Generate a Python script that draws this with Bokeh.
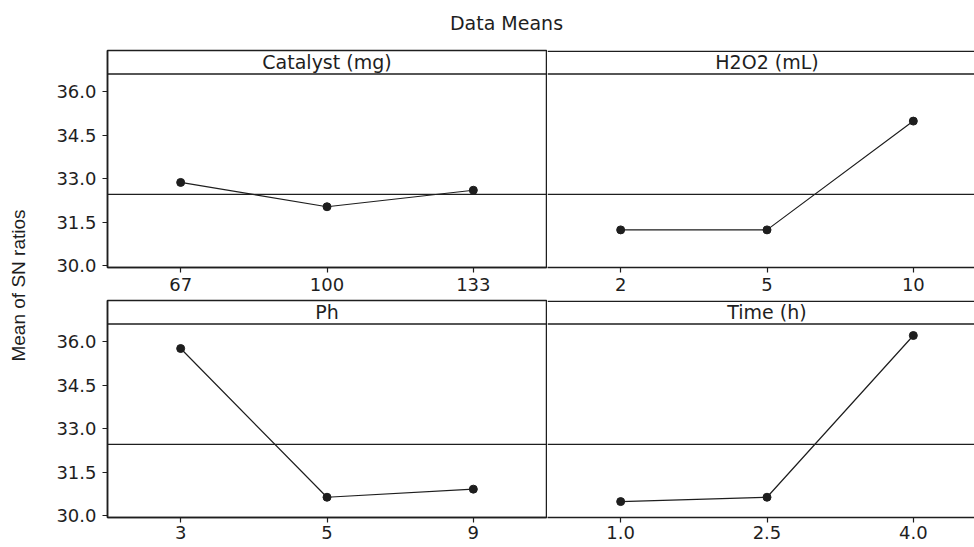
import numpy as np
from bokeh.plotting import figure
from bokeh.models import Range1d, FixedTicker, Span, Label, NumeralTickFormatter
from bokeh.layouts import column, row
from bokeh.embed import file_html
from bokeh.resources import INLINE

# ---------------- data ----------------
title_text = "Data Means"
y_label_text = "Mean of SN ratios"

catalyst_levels = ["67", "100", "133"]
catalyst_sn = [32.87, 32.03, 32.60]

h2o2_levels = ["2", "5", "10"]
h2o2_sn = [31.23, 31.23, 34.99]

ph_levels = ["3", "5", "9"]
ph_sn = [35.77, 30.63, 30.91]

time_levels = ["1.0", "2.5", "4.0"]
time_sn = [30.48, 30.63, 36.22]

grand_mean = 32.46
y_ticks = [30.0, 31.5, 33.0, 34.5, 36.0]
panel_titles = ["Catalyst (mg)", "H2O2 (mL)", "Ph", "Time (h)"]

# ---------------- layout / style ----------------
Y_MIN, Y_MAX, HEADER_Y = 29.93, 37.43, 36.62
TOP_BORDER_Y = Y_MAX - 0.025   # keep the drawn top edge inside the frame
INK = "#1e1e1e"
TICK_FONT = "DejaVu Sans"
BORDER_W = 1.5

YLAB_W = 38
LEFT_W, RIGHT_W = 509, 427
LEFT_BORDER_L, LEFT_BORDER_R = 69, 1
LEFT_FRAME_W = LEFT_W - LEFT_BORDER_L - LEFT_BORDER_R
RIGHT_FRAME_W = RIGHT_W
TITLE_H = 48
ROW1_H, ROW2_H = 250, 249


def style_axis(ax, standoff):
    ax.axis_line_color = INK
    ax.axis_line_width = BORDER_W
    ax.major_tick_line_color = INK
    ax.major_tick_line_width = 1.2
    ax.major_tick_out = 5
    ax.major_tick_in = 0
    ax.minor_tick_line_color = None
    ax.major_label_text_font = TICK_FONT
    ax.major_label_text_font_size = "18px"
    ax.major_label_text_color = INK
    ax.major_label_standoff = standoff


def make_panel(levels, values, header, is_left, is_top):
    xs = list(range(len(levels)))
    x_end = 2.5 if is_left else -0.5 + 3 * RIGHT_FRAME_W / LEFT_FRAME_W
    p = figure(
        width=LEFT_W if is_left else RIGHT_W,
        height=ROW1_H if is_top else ROW2_H,
        x_range=Range1d(-0.5, x_end),
        y_range=Range1d(Y_MIN, Y_MAX),
        toolbar_location=None,
        output_backend="svg",
        min_border_left=LEFT_BORDER_L if is_left else 0,
        min_border_right=LEFT_BORDER_R if is_left else 0,
        min_border_top=2,
        min_border_bottom=31 if is_top else 30,
    )
    p.grid.visible = False
    p.background_fill_color = "white"
    p.border_fill_color = "white"

    p.xaxis.ticker = FixedTicker(ticks=xs)
    p.xaxis.major_label_overrides = {i: lab for i, lab in zip(xs, levels)}
    style_axis(p.xaxis[0], 5 if is_top else 3)

    if is_left:
        p.yaxis.ticker = FixedTicker(ticks=y_ticks)
        p.yaxis.formatter = NumeralTickFormatter(format="0.0")
        style_axis(p.yaxis[0], 6)
        p.outline_line_color = INK
        p.outline_line_width = BORDER_W
        p.outline_line_alpha = 1
    else:
        p.yaxis.visible = False
        p.outline_line_color = None
        p.add_layout(Span(location=TOP_BORDER_Y, dimension="width", line_color=INK,
                          line_width=BORDER_W))

    p.add_layout(Span(location=HEADER_Y, dimension="width", line_color=INK, line_width=BORDER_W))
    p.add_layout(Span(location=grand_mean, dimension="width", line_color=INK, line_width=1.2))

    p.add_layout(Label(x=1, y=(HEADER_Y + Y_MAX) / 2, text=header,
                       text_align="center", text_baseline="middle",
                       text_font=TICK_FONT, text_font_size="19px", text_color=INK))

    p.line(xs, values, line_color=INK, line_width=1.2)
    p.scatter(xs, values, size=8, fill_color=INK, line_color=INK)
    return p


tl = make_panel(catalyst_levels, catalyst_sn, panel_titles[0], True, True)
tr = make_panel(h2o2_levels, h2o2_sn, panel_titles[1], False, True)
bl = make_panel(ph_levels, ph_sn, panel_titles[2], True, False)
br = make_panel(time_levels, time_sn, panel_titles[3], False, False)

# title strip
total_w = YLAB_W + LEFT_W + RIGHT_W
tf = figure(width=total_w, height=TITLE_H, toolbar_location=None, output_backend="svg",
            x_range=Range1d(0, 1), y_range=Range1d(0, 1), min_border=0)
tf.axis.visible = False
tf.grid.visible = False
tf.outline_line_color = None
tf.add_layout(Label(x=506, y=TITLE_H - 22, x_units="screen", y_units="screen",
                    text=title_text, text_align="center", text_baseline="middle",
                    text_font=TICK_FONT, text_font_size="19px", text_color=INK))

# y-label strip
yl_h = ROW1_H + ROW2_H
yf = figure(width=YLAB_W, height=yl_h, toolbar_location=None, output_backend="svg",
            x_range=Range1d(0, 1), y_range=Range1d(0, 1), min_border=0)
yf.axis.visible = False
yf.grid.visible = False
yf.outline_line_color = None
yf.add_layout(Label(x=18, y=yl_h - (285 - TITLE_H), x_units="screen", y_units="screen",
                    text=y_label_text, angle=np.pi / 2, text_align="center",
                    text_baseline="middle", text_font="Liberation Sans",
                    text_font_size="19px", text_color=INK))

layout = column(tf, row(yf, column(row(tl, tr), row(bl, br))))

with open("out.html", "w") as f:
    f.write(file_html(layout, INLINE))
